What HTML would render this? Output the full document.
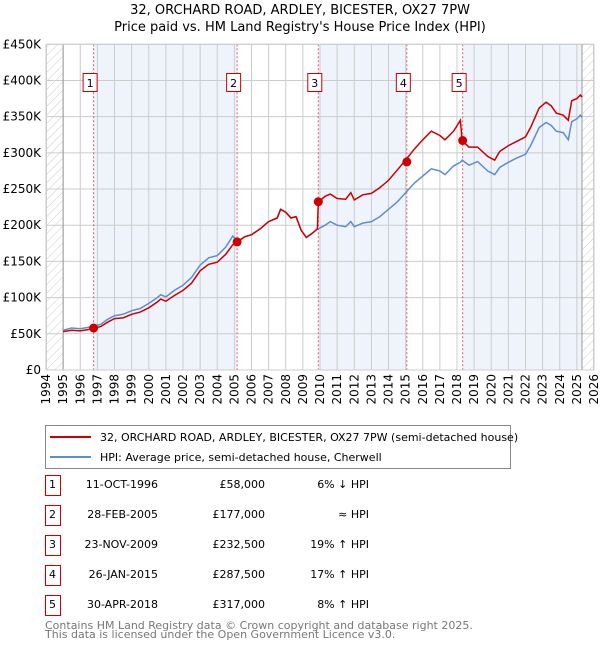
<!DOCTYPE html>
<html><head><meta charset="utf-8"><style>
body{margin:0;background:#fff;font-family:"Liberation Sans","DejaVu Sans",sans-serif;}
svg text{font-family:"DejaVu Sans","Liberation Sans",sans-serif;}
</style></head><body>
<svg id="c" width="600" height="650" xmlns="http://www.w3.org/2000/svg">
<defs><pattern id="h" width="6" height="6" patternUnits="userSpaceOnUse" patternTransform="rotate(45)"><line x1="0" y1="0" x2="0" y2="6" stroke="#ccc" stroke-width="1"/></pattern></defs>
<text x="300" y="14" text-anchor="middle" font-size="13">32, ORCHARD ROAD, ARDLEY, BICESTER, OX27 7PW</text>
<text x="300" y="31" text-anchor="middle" font-size="13">Price paid vs. HM Land Registry's House Price Index (HPI)</text>
<g id="plot"></g>
<g>
<rect x="45.5" y="425.5" width="465" height="43" fill="#fff" stroke="#888"/>
<line x1="50" y1="437" x2="91" y2="437" stroke="#cc0000" stroke-width="2"/>
<text x="100" y="441" font-size="11">32, ORCHARD ROAD, ARDLEY, BICESTER, OX27 7PW (semi-detached house)</text>
<line x1="50" y1="457" x2="91" y2="457" stroke="#5b8fd0" stroke-width="2"/>
<text x="100" y="461" font-size="11">HPI: Average price, semi-detached house, Cherwell</text>
</g>
<g id="table" font-size="11"></g>
<text x="45" y="629" font-size="11" fill="#777">Contains HM Land Registry data © Crown copyright and database right 2025.</text>
<text x="45" y="638" font-size="11" fill="#777">This data is licensed under the Open Government Licence v3.0.</text>
</svg>
<script>
const dates=[1995.0,1995.5,1996.0,1996.5,1996.8,1997.2,1997.6,1998.0,1998.5,1999.0,1999.5,2000.0,2000.5,2000.7,2001.0,2001.5,2002.0,2002.5,2003.0,2003.5,2004.0,2004.5,2004.9,2005.2,2005.6,2006.0,2006.5,2007.0,2007.5,2007.7,2008.0,2008.3,2008.6,2008.9,2009.2,2009.5,2009.85,2009.9,2010.3,2010.6,2011.0,2011.5,2011.8,2012.0,2012.5,2013.0,2013.5,2014.0,2014.5,2015.0,2015.5,2016.0,2016.5,2017.0,2017.3,2017.8,2018.2,2018.3,2018.7,2019.2,2019.8,2020.2,2020.5,2021.0,2021.5,2022.0,2022.3,2022.8,2023.2,2023.5,2023.8,2024.2,2024.5,2024.7,2025.0,2025.2,2025.3];
const hpi=[55,58,57,59,61,63,70,75,77,82,85,92,100,104,101,110,117,128,145,155,158,170,185,178,184,187,195,205,210,222,218,210,212,193,183,188,195,195,200,205,200,198,205,198,203,205,212,222,232,245,258,268,278,275,270,282,287,290,283,288,275,270,280,287,293,298,310,335,342,338,330,328,318,343,347,352,349];
const property=[53,55,54,56,58,60,66,71,72,77,80,86,94,98,95,103,110,120,137,146,149,160,173,177,184,187,195,205,210,222,218,210,212,193,183,188,195,232,240,243,237,236,245,235,242,244,252,262,276,290,305,318,330,324,318,330,345,317,308,308,295,290,302,310,316,322,335,362,370,365,355,352,345,372,375,380,377];
const saleDates=[1996.78,2005.16,2009.9,2015.07,2018.33];
const salePrices=[58,177,232.5,287.5,317];
const saleLabels=["1","2","3","4","5"];
const saleDateText=["11-OCT-1996","28-FEB-2005","23-NOV-2009","26-JAN-2015","30-APR-2018"];
const salePriceText=["£58,000","£177,000","£232,500","£287,500","£317,000"];
const saleHpiText=["6% ↓ HPI","≈ HPI","19% ↑ HPI","17% ↑ HPI","8% ↑ HPI"];
const yTicks=[0,50,100,150,200,250,300,350,400,450];
const yTickLabels=["£0","£50K","£100K","£150K","£200K","£250K","£300K","£350K","£400K","£450K"];
const xTicks=[1994,1995,1996,1997,1998,1999,2000,2001,2002,2003,2004,2005,2006,2007,2008,2009,2010,2011,2012,2013,2014,2015,2016,2017,2018,2019,2020,2021,2022,2023,2024,2025,2026];

const NS="http://www.w3.org/2000/svg";
const X0=46,X1=594,Y0=370,Y1=44.3;
const xs=v=>X0+(v-1994)/(2026-1994)*(X1-X0);
const ys=v=>Y0-v/450*(Y0-Y1);
const plot=document.getElementById('plot');
function mk(tag,attrs,parent){const e=document.createElementNS(NS,tag);for(const k in attrs)e.setAttribute(k,attrs[k]);(parent||plot).appendChild(e);return e;}
const dataEnd=2025.3;
let e;
e=mk('rect',{x:X0,y:Y1,width:X1-X0,height:Y0-Y1,fill:'#fff'});


const bandStarts=[saleDates[0],saleDates[2],saleDates[4]];
const bandEnds=[saleDates[1],saleDates[3],dataEnd];
for(let i=0;i<bandStarts.length;i++){
 e=mk('rect',{x:xs(bandStarts[i]),y:Y1,width:xs(bandEnds[i])-xs(bandStarts[i]),height:Y0-Y1,fill:'#eef3fc'});
 
 
}
e=mk('rect',{x:X0,y:Y1,width:xs(1995)-X0,height:Y0-Y1,fill:'url(#h)'});


e=mk('rect',{x:xs(dataEnd),y:Y1,width:X1-xs(dataEnd),height:Y0-Y1,fill:'url(#h)'});


xTicks.forEach((t,i)=>{
 e=mk('line',{x1:xs(t),x2:xs(t),y1:Y1,y2:Y0,stroke:'#ccc','stroke-width':1});
 
 
 e=mk('text',{x:0,y:0,'font-size':12,'text-anchor':'end',transform:`translate(${xs(t)+4},${Y0+4}) rotate(-90)`});
 e.textContent=t;
 
 
});
yTicks.forEach((t,i)=>{
 e=mk('line',{x1:X0,x2:X1,y1:ys(t),y2:ys(t),stroke:'#ccc','stroke-width':1});
 
 
 e=mk('text',{x:41,y:ys(t)+4,'font-size':12,'text-anchor':'end'});
 e.textContent=yTickLabels[i];
 
 
});
e=mk('line',{x1:xs(1995),x2:xs(1995),y1:Y1,y2:Y0,stroke:'#999','stroke-width':1});


e=mk('line',{x1:xs(dataEnd),x2:xs(dataEnd),y1:Y1,y2:Y0,stroke:'#999','stroke-width':1});


saleDates.forEach((d,i)=>{
 e=mk('line',{x1:xs(d),x2:xs(d),y1:Y1,y2:Y0,stroke:'#e06060','stroke-width':1,'stroke-dasharray':'2,2'});
 
 
});
const pts=arr=>arr.map((v,i)=>xs(dates[i]).toFixed(1)+','+ys(v).toFixed(1)).join(' ');
e=mk('polyline',{points:pts(hpi),fill:'none',stroke:'#5b8fd0','stroke-width':1.5});


e=mk('polyline',{points:pts(property),fill:'none',stroke:'#cc0000','stroke-width':1.5});


saleDates.forEach((d,i)=>{
 e=mk('circle',{cx:xs(d),cy:ys(salePrices[i]),r:4.5,fill:'#cc0000'});
 
 
 e=mk('rect',{x:xs(d)-10.5,y:73.5,width:14,height:18,fill:'#fff',stroke:'#cc0000'});
 
 
 e=mk('text',{x:xs(d)-3.5,y:87,'font-size':11,'text-anchor':'middle'});
 e.textContent=saleLabels[i];
 
 
});
e=mk('rect',{x:X0+0.5,y:Y1,width:X1-X0-1,height:Y0-Y1,fill:'none',stroke:'#ccc'});


const tbl=document.getElementById('table');
const rowCenters=[485,515,545,575,605];
saleLabels.forEach((l,i)=>{
 const y=rowCenters[i];
 e=mk('rect',{x:45.5,y:y-9.5,width:15,height:20,fill:'#fff',stroke:'#cc0000'},tbl);
 
 
 e=mk('text',{x:52.5,y:y+3,'text-anchor':'middle'},tbl);e.textContent=l;
 
 
 e=mk('text',{x:158,y:y+3,'text-anchor':'end'},tbl);e.textContent=saleDateText[i];
 
 
 e=mk('text',{x:265,y:y+3,'text-anchor':'end'},tbl);e.textContent=salePriceText[i];
 
 
 e=mk('text',{x:369,y:y+3,'text-anchor':'end'},tbl);e.textContent=saleHpiText[i];
 
 
});
</script>
</body></html>
